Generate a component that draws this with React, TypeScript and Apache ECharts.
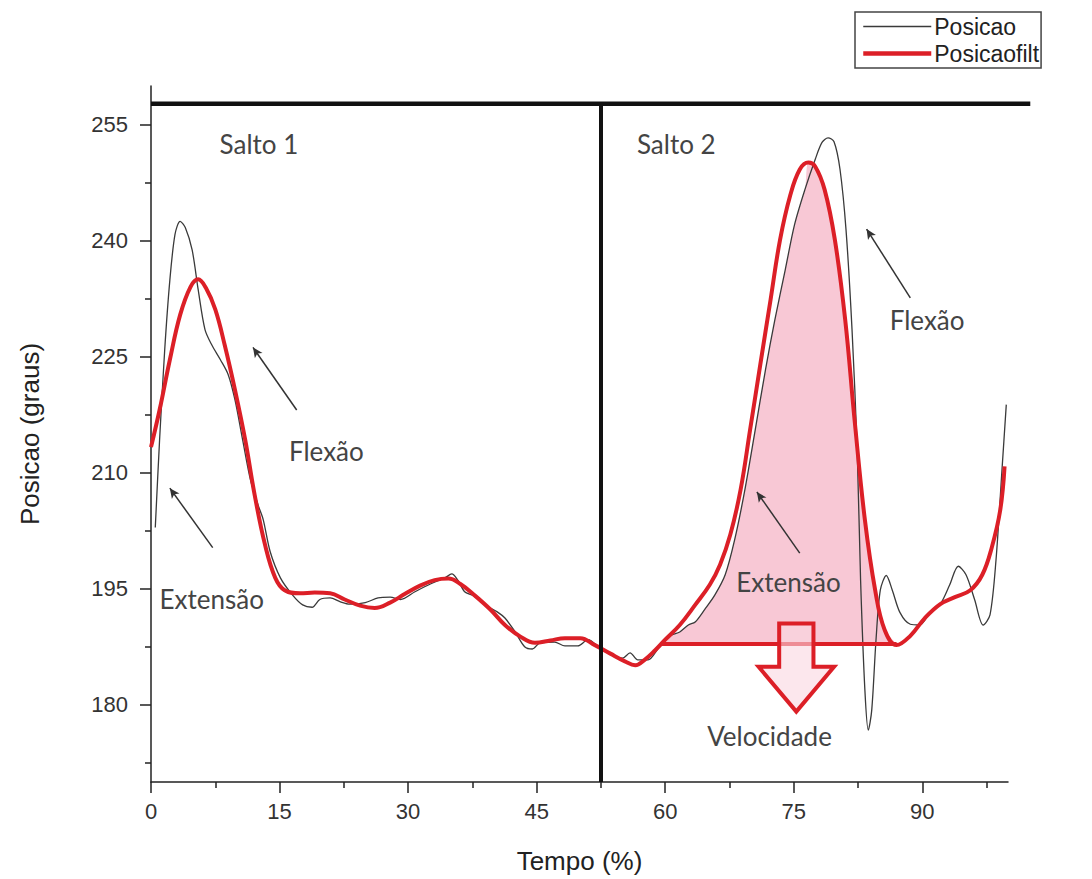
import React, { useEffect, useRef } from "react";
import * as echarts from "echarts";

// ---- data ----
const posicaoT = [0.5, 1, 1.6, 2.2, 2.8, 3.4, 4, 4.8, 5.5, 6.3, 7.1, 8.1, 9, 9.8, 10.7, 11.6, 12.5, 13.1, 13.9, 15.1, 16.5, 17.7, 18.8, 19.7, 20.9, 22.1, 23.2, 25, 26.5, 27.9, 29.1, 30.8, 32.6, 34.3, 35.1, 35.8, 36.6, 37.6, 39, 40.4, 41.3, 42.5, 43.6, 44.5, 45.4, 47.1, 48.3, 49.8, 51, 52.4, 53.8, 55, 55.9, 56.8, 58, 59.2, 60.6, 61.7, 62.7, 63.5, 64.6, 65.8, 67, 68.1, 69.3, 70.5, 71.7, 72.8, 74, 75.1, 76.3, 77.5, 78.3, 79, 79.7, 80.4, 81.1, 81.8, 82.4, 82.8, 83.3, 83.7, 84.1, 84.6, 85.1, 85.8, 86.5, 87.4, 88.6, 89.7, 90.9, 92.1, 93.2, 94.2, 95.1, 96.1, 97.1, 97.9, 98.6, 99.3, 99.8];
const posicaoV = [202.9, 214.2, 225.9, 234.9, 240.8, 242.5, 241.7, 238.8, 233.7, 228.5, 226.5, 224.6, 222.7, 219.4, 214.2, 209.1, 205.8, 203.9, 199.8, 196.4, 194.2, 192.9, 192.6, 193.6, 193.8, 193.3, 193.0, 193.2, 193.8, 193.9, 193.6, 194.6, 195.6, 196.4, 196.9, 196.1, 194.6, 194.1, 192.9, 192.0, 191.2, 189.4, 187.5, 187.2, 188.0, 188.1, 187.6, 187.6, 188.4, 187.3, 186.4, 186.0, 186.7, 185.8, 185.8, 187.3, 188.9, 189.4, 190.3, 190.7, 192.3, 194.2, 196.8, 201.3, 207.8, 215.5, 223.3, 229.8, 236.2, 242.1, 246.6, 250.5, 252.7, 253.3, 252.8, 249.2, 241.4, 228.5, 213.0, 196.1, 181.9, 176.7, 179.3, 188.4, 194.8, 196.7, 194.8, 191.9, 190.4, 190.3, 191.9, 193.0, 195.5, 197.9, 196.8, 193.6, 190.3, 191.6, 198.7, 210.4, 218.8];

const filtT = [0, 1, 2.2, 3.4, 4.6, 5.5, 6.4, 7.5, 8.6, 9.8, 11, 12.1, 13.3, 14.5, 15.6, 17.4, 19.1, 20.9, 22.6, 24.4, 26.1, 27.9, 29.6, 31.4, 33.1, 34.7, 36.1, 37.8, 39.6, 41.3, 43.1, 44.8, 46.6, 48.3, 50.1, 51.8, 53.6, 55.3, 56.5, 57.6, 58.8, 60, 61.7, 63.5, 65.2, 66.4, 67.6, 68.8, 69.9, 71.1, 72.3, 73.4, 74.6, 75.7, 76.7, 77.5, 78.6, 79.8, 81, 82.1, 83.3, 84.5, 85.6, 87, 88.6, 90.3, 92.1, 93.8, 95.6, 97, 98.1, 99.1, 99.6];
const filtV = [213.3, 218.1, 224.6, 230.4, 234.0, 235.0, 233.9, 231.1, 226.5, 220.7, 214.2, 207.1, 200.7, 196.4, 194.8, 194.4, 194.5, 194.4, 193.6, 192.8, 192.5, 193.2, 194.3, 195.4, 196.1, 196.3, 195.6, 194.1, 192.3, 190.3, 188.8, 188.0, 188.3, 188.6, 188.6, 187.7, 186.6, 185.6, 185.1, 185.8, 187.0, 188.4, 190.3, 192.9, 195.5, 198.1, 202.0, 207.8, 215.5, 224.0, 232.4, 240.1, 245.9, 249.2, 250.1, 249.6, 246.6, 240.1, 229.8, 216.8, 203.9, 194.8, 189.7, 187.7, 188.9, 191.2, 193.0, 193.9, 194.8, 196.8, 200.3, 205.2, 210.8];

const xTickValues = [0, 15, 30, 45, 60, 75, 90];
const xMinorTickValues = [7.5, 22.5, 37.5, 52.5, 67.5, 82.5, 97.5];
const yTickValues = [180, 195, 210, 225, 240, 255];
const yMinorTickValues = [172.5, 187.5, 202.5, 217.5, 232.5, 247.5];

// shaded "Velocidade" area: bounded by baseline, raw curve on rise, filtered curve on fall
const velocityBase = 187.9;
const fillStart = 59.8;
const fillSwitch = 76.5;
const fillEnd = 87;
const saltoDivider = 52.5;
const topLineLevel = 257.7;
const topLineEnd = 102.6;

const annotationTexts: { text: string; at: [number, number] }[] = [
  { text: "Salto 1", at: [8.0, 252.5] },
  { text: "Salto 2", at: [56.7, 252.5] },
  { text: "Flexão", at: [16.1, 212.8] },
  { text: "Extensão", at: [1.0, 193.7] },
  { text: "Extensão", at: [68.3, 195.9] },
  { text: "Flexão", at: [86.2, 229.7] },
  { text: "Velocidade", at: [64.9, 176.0] },
];

const annotationArrows: [number, number, number, number][] = [
  [17.0, 218.1, 11.9, 226.2],
  [7.2, 200.3, 2.2, 208.0],
  [75.7, 199.6, 70.7, 207.5],
  [88.6, 232.6, 83.5, 241.5],
];

const bigArrow: [number, number][] = [
  [73.3, 190.5], [77.3, 190.5], [77.3, 184.9], [79.7, 184.9],
  [75.3, 179.1], [70.9, 184.9], [73.3, 184.9],
];

const RED = "#dc1f27";
const PINK = "#f8c8d5";
const TEXT_FONT = "Lato, 'Open Sans', sans-serif";
const AXIS_FONT = "'Liberation Sans', Arial, sans-serif";

function zip(t: number[], v: number[]) {
  return t.map((x, i) => [x, v[i]]);
}

export default function App() {
  const ref = useRef<HTMLDivElement>(null);

  useEffect(() => {
    if (!ref.current) return;
    const chart = echarts.init(ref.current, undefined, { renderer: "svg" });

    const rawData = zip(posicaoT, posicaoV);
    const filtData = zip(filtT, filtV);
    const fillData = [
      [fillStart, velocityBase],
      ...rawData.filter((p) => p[0] > fillStart && p[0] < fillSwitch),
      ...filtData.filter((p) => p[0] >= fillSwitch && p[0] < fillEnd),
      [fillEnd, velocityBase],
    ];

    const arrowStyle = { color: "#333", width: 1.5, type: "solid" as const };

    const markData: any[] = [
      [
        { coord: [saltoDivider, 170], lineStyle: { color: "#111", width: 4, type: "solid" } },
        { coord: [saltoDivider, topLineLevel] },
      ],
      [
        { coord: [fillStart - 0.3, velocityBase], lineStyle: { color: RED, width: 4, type: "solid" } },
        { coord: [fillEnd, velocityBase] },
      ],
      ...annotationArrows.map((a) => [
        { coord: [a[0], a[1]], lineStyle: arrowStyle, symbol: "none" },
        { coord: [a[2], a[3]], symbol: "arrow", symbolSize: [7, 10] },
      ]),
    ];

    const axisLabelStyle = { color: "#333", fontSize: 22, fontFamily: AXIS_FONT };

    chart.setOption({
      animation: false,
      backgroundColor: "#fff",
      grid: { left: 151, right: 84, top: 86, bottom: 97, containLabel: false },
      legend: {
        data: [
          { name: "Posicao", lineStyle: { width: 1.3 } },
          { name: "Posicaofilt", lineStyle: { width: 4.5 } },
        ],
        orient: "vertical",
        left: 855,
        top: 12,
        itemWidth: 68,
        itemHeight: 14,
        itemGap: 4,
        padding: [3, 2, 3, 6],
        borderColor: "#444",
        borderWidth: 1.5,
        backgroundColor: "#fff",
        itemStyle: { opacity: 0 },
        textStyle: { fontSize: 23, color: "#222", fontFamily: AXIS_FONT, padding: [0, 0, 0, -2] },
      },
      xAxis: [
        {
          type: "value",
          min: 0,
          max: 100,
          name: "Tempo (%)",
          nameLocation: "middle",
          nameGap: 66,
          nameTextStyle: { fontSize: 26, color: "#222", fontFamily: AXIS_FONT },
          axisLine: { show: true, lineStyle: { color: "#222", width: 1.5 } },
          axisTick: { show: true, length: 11, customValues: xTickValues, lineStyle: { color: "#222", width: 1.5 } },
          axisLabel: { customValues: xTickValues, margin: 18, ...axisLabelStyle },
          splitLine: { show: false },
        },
        {
          type: "value",
          min: 0,
          max: 100,
          position: "bottom",
          axisLine: { show: false },
          axisTick: { show: true, length: 6, customValues: xMinorTickValues, lineStyle: { color: "#222", width: 1.5 } },
          axisLabel: { show: false },
          splitLine: { show: false },
        },
      ],
      yAxis: [
        {
          type: "value",
          min: 170,
          max: 260,
          name: "Posicao (graus)",
          nameLocation: "middle",
          nameGap: 108,
          nameTextStyle: { fontSize: 26, color: "#222", fontFamily: AXIS_FONT },
          axisLine: { show: true, lineStyle: { color: "#222", width: 1.5 } },
          axisTick: { show: true, length: 11, customValues: yTickValues, lineStyle: { color: "#222", width: 1.5 } },
          axisLabel: { customValues: yTickValues, margin: 23, ...axisLabelStyle },
          splitLine: { show: false },
        },
        {
          type: "value",
          min: 170,
          max: 260,
          position: "left",
          axisLine: { show: false },
          axisTick: { show: true, length: 6, customValues: yMinorTickValues, lineStyle: { color: "#222", width: 1.5 } },
          axisLabel: { show: false },
          splitLine: { show: false },
        },
      ],
      series: [
        {
          name: "fill",
          type: "line",
          data: fillData,
          symbol: "none",
          smooth: 0.3,
          lineStyle: { width: 0 },
          areaStyle: { color: PINK, opacity: 1, origin: velocityBase },
          silent: true,
          z: 1,
        },
        {
          name: "Posicao",
          type: "line",
          data: rawData,
          symbol: "none",
          smooth: 0.3,
          lineStyle: { color: "#3a3a3a", width: 1.3 },
          itemStyle: { color: "#3a3a3a" },
          z: 2,
        },
        {
          name: "Posicaofilt",
          type: "line",
          data: filtData,
          symbol: "none",
          smooth: 0.4,
          lineStyle: { color: RED, width: 4 },
          itemStyle: { color: RED },
          z: 3,
        },
        {
          name: "annot",
          type: "line",
          data: [],
          symbol: "none",
          z: 5,
          markLine: {
            silent: true,
            symbol: ["none", "none"],
            label: { show: false },
            emphasis: { disabled: true },
            data: markData,
          },
        },
      ],
    });

    const toPx = (p: [number, number]) =>
      chart.convertToPixel({ xAxisIndex: 0, yAxisIndex: 0 }, p) as number[];

    const graphics: any[] = annotationTexts.map((a) => {
      const [x, y] = toPx(a.at);
      return {
        type: "text",
        x,
        y,
        z: 10,
        silent: true,
        style: {
          text: a.text,
          fill: "#444",
          fontSize: 26,
          fontFamily: TEXT_FONT,
          align: "left",
          verticalAlign: "middle",
        },
      };
    });
    const tl0 = toPx([0, topLineLevel]);
    const tl1 = toPx([topLineEnd, topLineLevel]);
    graphics.push({
      type: "line",
      z: 8,
      silent: true,
      shape: { x1: tl0[0], y1: tl0[1], x2: tl1[0], y2: tl1[1] },
      style: { stroke: "#111", lineWidth: 4.5 },
    });
    graphics.push({
      type: "polygon",
      z: 9,
      silent: true,
      shape: { points: bigArrow.map((p) => toPx(p)) },
      style: { fill: "rgba(250,215,225,0.6)", stroke: RED, lineWidth: 4, lineJoin: "miter" },
    });
    chart.setOption({ graphic: graphics });

    return () => chart.dispose();
  }, []);

  return (
    <div
      ref={ref}
      style={{ width: 1092, height: 879, position: "absolute", left: 0, top: 0 }}
    />
  );
}
